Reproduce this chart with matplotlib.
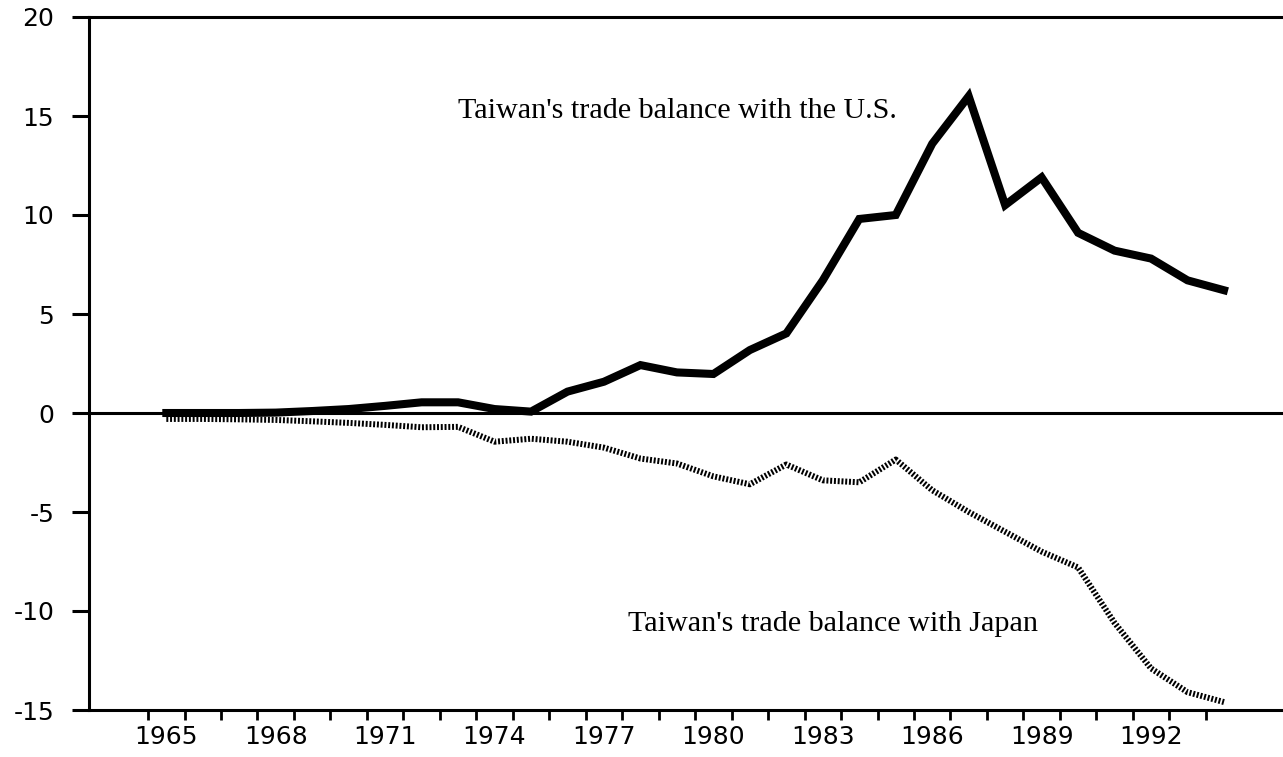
import matplotlib
matplotlib.use("Agg")
import matplotlib.pyplot as plt
import numpy as np

years = list(range(1965, 1995))
us_balance = [0.0, 0.0, 0.0, 0.02, 0.1, 0.2, 0.36, 0.54, 0.54, 0.2, 0.07, 1.08, 1.58, 2.42, 2.05,
              1.97, 3.18, 4.02, 6.7, 9.8, 10.0, 13.6, 16.0, 10.5, 11.9, 9.1, 8.2, 7.8, 6.7, 6.2]
japan_balance = [-0.3, -0.3, -0.32, -0.35, -0.42, -0.5, -0.6, -0.72, -0.7, -1.45, -1.3, -1.45, -1.75,
                 -2.3, -2.55, -3.2, -3.6, -2.6, -3.4, -3.5, -2.35, -3.9, -5.0, -6.0, -7.0, -7.8,
                 -10.6, -12.9, -14.1, -14.6]
label_years = list(range(1965, 1993, 3))
y_ticks = [-15, -10, -5, 0, 5, 10, 15, 20]

fig = plt.figure(figsize=(12.83, 7.57), dpi=100)
ax = fig.add_axes([89 / 1283, 1 - 710 / 757, 1 - 89 / 1283 + 0.01, (710 - 17) / 757])

ax.plot(years, us_balance, color="black", lw=5.8, solid_joinstyle="miter", solid_capstyle="projecting", zorder=3)
ax.plot(years, japan_balance, color="black", lw=4.3, dashes=(0.33, 0.3), dash_capstyle="butt", zorder=3)
ax.axhline(0, color="black", lw=2.2, zorder=2)

ax.set_xlim(1962.88, 1995.97)
ax.set_ylim(-15, 20)

for s in ["left", "top", "bottom"]:
    ax.spines[s].set_linewidth(2.2)
ax.spines["right"].set_visible(False)

ax.set_yticks(y_ticks)
ax.set_yticklabels([str(v) for v in y_ticks])
ax.set_xticks(label_years)
ax.set_xticklabels([str(y) for y in label_years])
ax.set_xticks([y - 0.5 for y in range(1965, 1995)], minor=True)

ax.tick_params(axis="y", which="major", direction="out", length=12, width=2.2, pad=13,
               labelsize=18)
ax.tick_params(axis="x", which="major", length=0, pad=11, labelsize=18)
ax.tick_params(axis="x", which="minor", direction="out", length=7, width=2)
for lab in ax.get_xticklabels() + ax.get_yticklabels():
    lab.set_fontfamily("DejaVu Sans")

ax.text(1973.0, 14.9, "Taiwan's trade balance with the U.S.", family="Liberation Serif",
        fontsize=21.7, ha="left", va="baseline")
ax.text(1977.65, -11.0, "Taiwan's trade balance with Japan", family="Liberation Serif",
        fontsize=21.7, ha="left", va="baseline")

fig.savefig("out.png", dpi=100)
